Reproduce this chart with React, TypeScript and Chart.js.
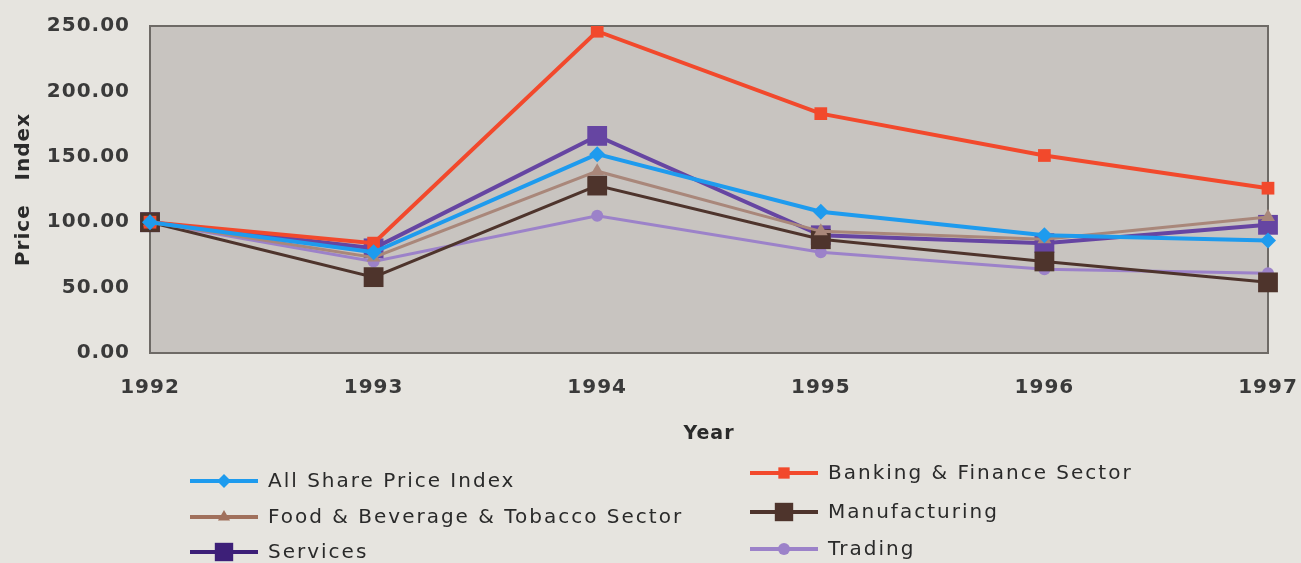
import React, { useEffect, useRef } from 'react';
import { Chart, registerables } from 'chart.js';

Chart.register(...registerables);

const years = ['1992', '1993', '1994', '1995', '1996', '1997'];
const yMin = 0;
const yMax = 250;
const yStep = 50;

const allShare = [100, 77, 152, 108, 90, 86];
const banking = [100, 84, 246, 183, 151, 126];
const foodBev = [100, 73, 139, 93, 87, 104];
const manufacturing = [100, 58, 128, 87, 70, 54];
const services = [100, 80, 166, 90, 84, 98];
const trading = [100, 70, 105, 77, 64, 61];

const seriesNames = [
  'All Share Price Index',
  'Banking & Finance Sector',
  'Food & Beverage & Tobacco Sector',
  'Manufacturing',
  'Services',
  'Trading',
];
const seriesValues = [allShare, banking, foodBev, manufacturing, services, trading];

// styles (kept apart from data)
const colors = ['#1e9bee', '#f2492c', '#a9877a', '#4e342c', '#6645a2', '#9c82c9'];
const legendColors = ['#1e9bee', '#f2492c', '#a0705c', '#4e342c', '#3d1f78', '#9c82c9'];
const pointStyles = ['rectRot', 'rect', 'triangle', 'rect', 'rect', 'circle'];
const pointRadii = [8, 9, 8, 14, 14, 6];
const lineWidths = [4, 4, 3, 3, 4, 3];
const legendPos = [
  { x: 190, y: 481 },
  { x: 750, y: 473 },
  { x: 190, y: 517 },
  { x: 750, y: 512 },
  { x: 190, y: 552 },
  { x: 750, y: 549 },
];
const legendRadii = [7, 8, 7, 13, 13, 6];

function drawMarker(ctx: CanvasRenderingContext2D, style: string, x: number, y: number, r: number, color: string) {
  ctx.fillStyle = color;
  ctx.beginPath();
  if (style === 'rect') {
    const s = r * Math.SQRT1_2;
    ctx.rect(x - s, y - s, 2 * s, 2 * s);
  } else if (style === 'rectRot') {
    ctx.moveTo(x, y - r);
    ctx.lineTo(x + r, y);
    ctx.lineTo(x, y + r);
    ctx.lineTo(x - r, y);
    ctx.closePath();
  } else if (style === 'triangle') {
    ctx.moveTo(x, y - r);
    ctx.lineTo(x + r * 0.866, y + r * 0.5);
    ctx.lineTo(x - r * 0.866, y + r * 0.5);
    ctx.closePath();
  } else {
    ctx.arc(x, y, r, 0, Math.PI * 2);
  }
  ctx.fill();
}

const bgPlugin = {
  id: 'bgPlugin',
  beforeDraw(chart: any) {
    const ctx = chart.ctx as CanvasRenderingContext2D;
    const { left, top, right, bottom } = chart.chartArea;
    ctx.save();
    ctx.fillStyle = '#e6e4df';
    ctx.fillRect(0, 0, chart.width, chart.height);
    ctx.fillStyle = '#c8c4c0';
    ctx.fillRect(left, top, right - left, bottom - top);
    ctx.strokeStyle = '#6e6a66';
    ctx.lineWidth = 2;
    ctx.strokeRect(left, top, right - left, bottom - top);
    ctx.restore();
    (ctx as any).letterSpacing = '1px';
  },
  beforeDatasetsDraw(chart: any) {
    (chart.ctx as any).letterSpacing = '0px';
  },
  afterDraw(chart: any) {
    const ctx = chart.ctx as CanvasRenderingContext2D;
    ctx.save();
    (ctx as any).letterSpacing = '2px';
    ctx.font = '20px "DejaVu Sans"';
    ctx.textBaseline = 'middle';
    ctx.textAlign = 'left';
    seriesNames.forEach((name, i) => {
      const p = legendPos[i];
      ctx.strokeStyle = legendColors[i];
      ctx.lineWidth = 4;
      ctx.beginPath();
      ctx.moveTo(p.x, p.y);
      ctx.lineTo(p.x + 68, p.y);
      ctx.stroke();
      drawMarker(ctx, pointStyles[i], p.x + 34, p.y, legendRadii[i], legendColors[i]);
      ctx.fillStyle = '#2a2a2a';
      ctx.fillText(name, p.x + 78, p.y + 1);
    });
    ctx.restore();
  },
};

export default function App() {
  const ref = useRef<HTMLCanvasElement | null>(null);
  useEffect(() => {
    document.body.style.margin = '0';
    document.body.style.background = '#e6e4df';
    if (!ref.current) return;
    const datasets = seriesNames.map((name, i) => ({
      label: name,
      data: seriesValues[i],
      borderColor: colors[i],
      backgroundColor: colors[i],
      pointBackgroundColor: colors[i],
      pointBorderColor: colors[i],
      pointBorderWidth: 0,
      pointStyle: pointStyles[i] as any,
      pointRadius: pointRadii[i],
      borderWidth: lineWidths[i],
      tension: 0,
      fill: false,
    }));
    const chart = new Chart(ref.current, {
      type: 'line',
      data: { labels: years, datasets },
      plugins: [bgPlugin],
      options: {
        animation: false,
        responsive: false,
        events: [],
        layout: { padding: { left: 0, top: 26, right: 33, bottom: 118 } },
        plugins: { legend: { display: false }, tooltip: { enabled: false } },
        scales: {
          x: {
            offset: false,
            grid: { display: false, drawTicks: false },
            border: { display: false },
            ticks: {
              color: '#3a3a3a',
              padding: 23,
              maxRotation: 0,
              font: { family: '"DejaVu Sans"', size: 20, weight: 'bold' },
            },
            title: {
              display: true,
              text: 'Year',
              color: '#2a2a2a',
              padding: { top: 22, bottom: 0 },
              font: { family: '"DejaVu Sans"', size: 19, weight: 'bold' },
            },
            afterFit: (s: any) => {
              s.height = 92;
              s.paddingLeft = 0;
              s.paddingRight = 0;
            },
          },
          y: {
            min: yMin,
            max: yMax,
            grid: { display: false, drawTicks: false },
            border: { display: false },
            ticks: {
              stepSize: yStep,
              color: '#3a3a3a',
              padding: 20,
              font: { family: '"DejaVu Sans"', size: 20, weight: 'bold' },
              callback: (v: any) => Number(v).toFixed(2),
            },
            title: {
              display: true,
              text: 'Price   Index',
              color: '#2a2a2a',
              padding: { top: 12, bottom: 0 },
              font: { family: '"DejaVu Sans"', size: 20, weight: 'bold' },
            },
            afterFit: (s: any) => {
              s.width = 150;
              s.paddingTop = 0;
              s.paddingBottom = 0;
            },
          },
        },
      },
    });
    return () => chart.destroy();
  }, []);
  return (
    <div style={{ width: 1301, height: 563 }}>
      <canvas ref={ref} width={1301} height={563} style={{ display: 'block' }} />
    </div>
  );
}
